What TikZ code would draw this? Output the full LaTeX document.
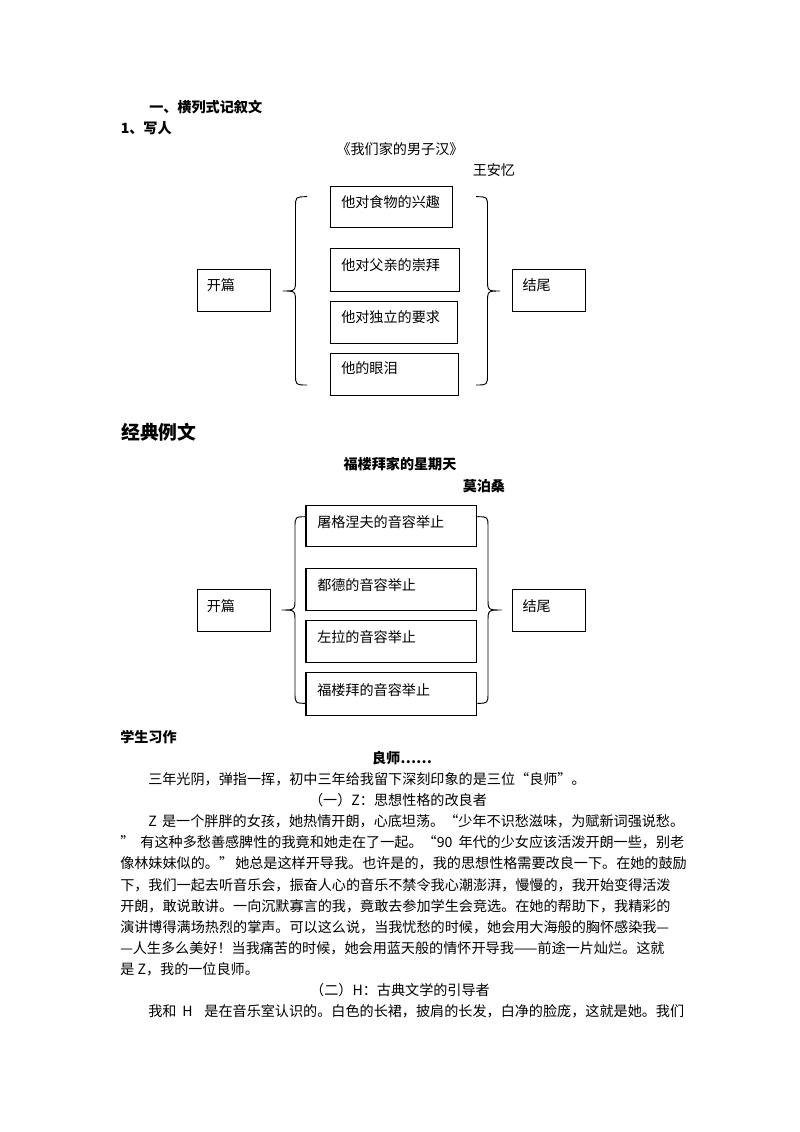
\documentclass[tikz,border=0pt]{standalone}
\usepackage{fontspec}
\setmainfont{Noto Sans CJK SC}
\usetikzlibrary{fit}
\XeTeXlinebreaklocale "zh"
\XeTeXlinebreakskip=0pt plus 1pt
% #1 end x, #2 stem x, #3 tip x, #4 top y, #5 tip y, #6 bottom y
\newcommand\mybrace[6]{%
  \draw[brc] (#1,#4) .. controls (#2,#4) .. (#2,{#4+11}) -- (#2,{#5-12})
    .. controls (#2,#5) .. (#3,#5) .. controls (#2,#5) .. (#2,{#5+12})
    -- (#2,{#6-11}) .. controls (#2,#6) .. (#1,#6);}
\newcommand\fullline[1]{\makebox[419.7pt][s]{#1}}
\newcommand\indline[1]{\makebox[398.8pt][s]{#1}}
\tikzset{
  box/.style={draw, line width=0.75pt, inner sep=0pt},
  txt/.style={inner sep=0pt, anchor=base west, font=\fontsize{10.5}{12}\selectfont},
  ctxt/.style={inner sep=0pt, anchor=base, font=\fontsize{10.5}{12}\selectfont},
  hd/.style={inner sep=0pt, anchor=base west, font=\bfseries\fontsize{10.5}{12}\selectfont},
  brc/.style={line width=0.7pt},
}
\begin{document}
\begin{tikzpicture}[x=0.7441pt,y=-0.7441pt]
\useasboundingbox (0,0) rectangle (800,1132);
\fill[white] (0,0) rectangle (800,1132);

% headings
\node[hd] (h1) at (149,112.4) {一、横列式记叙文};
\node[hd] (h2) at (120.5,133.4) {1、写人};
\node[ctxt] (t1) at (400,154.4) {《我们家的男子汉》};
\node[txt] (au1) at (472.5,175.4) {王安忆};

% diagram 1
\node[box, fit={(197.3,269.3) (270.7,311.7)}] (kp1) {};
\node[txt] (kp1t) at (206.5,290.4) {开篇};
\node[box, fit={(330.7,186.7) (452,227.7)}] (a1) {};
\node[txt] (a1t) at (341,207.1) {他对食物的兴趣};
\node[box, fit={(330.7,248.3) (459.3,291)}] (a2) {};
\node[txt] (a2t) at (341,270.4) {他对父亲的崇拜};
\node[box, fit={(330.7,301) (457.3,343.3)}] (a3) {};
\node[txt] (a3t) at (341,322.1) {他对独立的要求};
\node[box, fit={(330.7,353.3) (458.3,395.7)}] (a4) {};
\node[txt] (a4t) at (341,373.7) {他的眼泪};
\node[box, fit={(512.3,269.3) (585,311.7)}] (jw1) {};
\node[txt] (jw1t) at (522.3,290.4) {结尾};
\mybrace{307}{295.5}{282.7}{196.7}{291}{385}
\mybrace{476}{487.5}{500}{196.7}{291}{385}

% section 2
\node[inner sep=0pt, anchor=base west, font=\bfseries\fontsize{14}{16}\selectfont] (h3) at (121,439.1) {经典例文};
\node[inner sep=0pt, anchor=base, font=\bfseries\fontsize{10.5}{12}\selectfont] (t2) at (400,469.4) {福楼拜家的星期天};
\node[hd] (au2) at (462.5,491.4) {莫泊桑};

% diagram 2
\node[box, fit={(197.3,589.3) (270.7,631)}] (kp2) {};
\node[txt] (kp2t) at (206.5,611.4) {开篇};
\node[box, fit={(306,505) (476.7,546.7)}] (b1) {};
\node[txt] (b1t) at (317,527.1) {屠格涅夫的音容举止};
\node[box, fit={(306,568.3) (476.7,610)}] (b2) {};
\node[txt] (b2t) at (317,590.4) {都德的音容举止};
\node[box, fit={(306,620.7) (476.7,662.3)}] (b3) {};
\node[txt] (b3t) at (317,642.1) {左拉的音容举止};
\node[box, fit={(306,672.7) (476.7,715)}] (b4) {};
\node[txt] (b4t) at (317,695.4) {福楼拜的音容举止};
\node[box, fit={(512.3,589.3) (585,631)}] (jw2) {};
\node[txt] (jw2t) at (522.3,611.4) {结尾};
\mybrace{306.7}{295}{281.7}{516.7}{610}{703.3}
\mybrace{477.3}{488}{501.7}{516.7}{610}{703.3}

% student essay
\node[hd] (h4) at (120,742.4) {学生习作};
\node[inner sep=0pt, anchor=base, font=\bfseries\fontsize{10.5}{12}\selectfont] (t3) at (402,763.4) {良师……};
\node[txt] (r2) at (148,784.5) {三年光阴，弹指一挥，初中三年给我留下深刻印象的是三位“良师”。};
\node[ctxt] (r3) at (398,805.6) {（一）Z：思想性格的改良者};
\node[txt] (r4) at (148,826.7) {\indline{Z 是一个胖胖的女孩，她热情开朗，心底坦荡。“少年不识愁滋味，为赋新词强说愁。}};
\node[txt] (r5) at (120,847.8) {\fullline{” 有这种多愁善感脾性的我竟和她走在了一起。“90 年代的少女应该活泼开朗一些，别老}};
\node[txt] (r6) at (120,868.9) {\fullline{像林妹妹似的。” 她总是这样开导我。也许是的，我的思想性格需要改良一下。在她的鼓励}};
\node[txt] (r7) at (120,890) {\fullline{下，我们一起去听音乐会，振奋人心的音乐不禁令我心潮澎湃，慢慢的，我开始变得活泼}};
\node[txt] (r8) at (120,911) {\fullline{开朗，敢说敢讲。一向沉默寡言的我，竟敢去参加学生会竞选。在她的帮助下，我精彩的}};
\node[txt] (r9) at (120,932.1) {\fullline{演讲博得满场热烈的掌声。可以这么说，当我忧愁的时候，她会用大海般的胸怀感染我—}};
\node[txt] (r10) at (120,953.2) {\fullline{—人生多么美好！当我痛苦的时候，她会用蓝天般的情怀开导我——前途一片灿烂。这就}};
\node[txt] (r11) at (120,974.3) {是 Z，我的一位良师。};
\node[ctxt] (r12) at (400,995.4) {（二）H：古典文学的引导者};
\node[txt] (r13) at (148,1016.4) {\indline{我和 H \ 是在音乐室认识的。白色的长裙，披肩的长发，白净的脸庞，这就是她。我们}};
\end{tikzpicture}
\end{document}
